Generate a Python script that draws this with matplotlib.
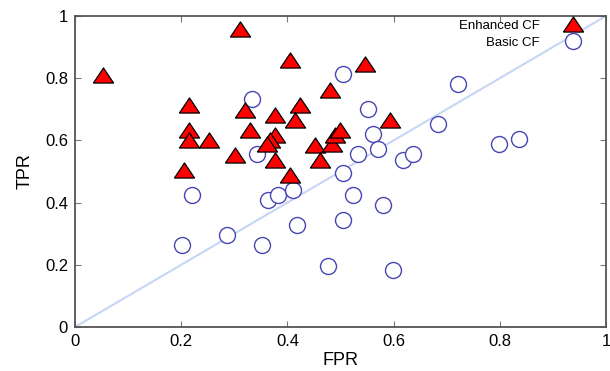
import numpy as np
import matplotlib.pyplot as plt
from matplotlib.ticker import FormatStrFormatter

plt.rcParams['font.family'] = ['Liberation Sans', 'DejaVu Sans']

# enhanced CF (red triangles)
enh_fpr = [0.053, 0.311, 0.405, 0.546, 0.480, 0.215, 0.320, 0.377, 0.424, 0.414,
           0.215, 0.215, 0.252, 0.330, 0.377, 0.367, 0.362, 0.301, 0.377, 0.452,
           0.461, 0.484, 0.490, 0.499, 0.593, 0.205, 0.405]
enh_tpr = [0.810, 0.958, 0.859, 0.846, 0.762, 0.714, 0.698, 0.682, 0.714, 0.666,
           0.633, 0.601, 0.601, 0.633, 0.617, 0.601, 0.590, 0.553, 0.537, 0.585,
           0.537, 0.590, 0.617, 0.633, 0.666, 0.505, 0.489]

# basic CF (open circles)
bas_fpr = [0.505, 0.721, 0.334, 0.552, 0.684, 0.561, 0.571, 0.533, 0.343, 0.618,
           0.637, 0.798, 0.836, 0.505, 0.220, 0.363, 0.382, 0.411, 0.418, 0.202,
           0.287, 0.353, 0.476, 0.505, 0.524, 0.580, 0.599]
bas_tpr = [0.813, 0.781, 0.733, 0.701, 0.652, 0.620, 0.572, 0.556, 0.556, 0.537,
           0.556, 0.588, 0.604, 0.495, 0.424, 0.408, 0.424, 0.441, 0.328, 0.264,
           0.296, 0.264, 0.196, 0.344, 0.424, 0.392, 0.183]

labels = ['Enhanced CF', 'Basic CF']

# flatter triangle than the default '^'
tri = [(-1, -0.75), (1, -0.75), (0, 0.75), (-1, -0.75)]

fig = plt.figure(figsize=(6.1, 3.71), dpi=100)
ax = fig.add_axes([0.123, 0.1186, 0.8704, 0.8383])

ax.plot([0, 1], [0, 1], color='#c6d6f4', lw=1.5, zorder=1)
ax.plot(bas_fpr, bas_tpr, ls='none', marker='o', ms=11.5, mfc='white',
        mec='#4646b4', mew=1.0, label=labels[1], zorder=2)
ax.plot(enh_fpr, enh_tpr, ls='none', marker=tri, ms=14.5, mfc='#ff0000',
        mec='black', mew=0.9, label=labels[0], zorder=3)

h, l = ax.get_legend_handles_labels()
ax.legend(h[::-1], l[::-1], loc='upper right', frameon=False, markerfirst=False,
          fontsize=9.5, handlelength=1.2, handletextpad=1.9, labelspacing=0.35,
          borderaxespad=0.1, bbox_to_anchor=(0.965, 1.01))

ax.set_xlim(0, 1)
ax.set_ylim(0, 1)
ax.set_xticks(np.arange(0, 1.01, 0.2))
ax.set_yticks(np.arange(0, 1.01, 0.2))
ax.xaxis.set_major_formatter(FormatStrFormatter('%g'))
ax.yaxis.set_major_formatter(FormatStrFormatter('%g'))
ax.tick_params(direction='in', length=4, width=0.8, color='#777777',
               top=True, right=True, labelsize=12, pad=5)
for s in ax.spines.values():
    s.set_color('#555555')
    s.set_linewidth(1.3)

ax.set_xlabel('FPR', fontsize=13, labelpad=2)
ax.set_ylabel('TPR', fontsize=13, labelpad=8)

fig.savefig('out.png', dpi=100)
